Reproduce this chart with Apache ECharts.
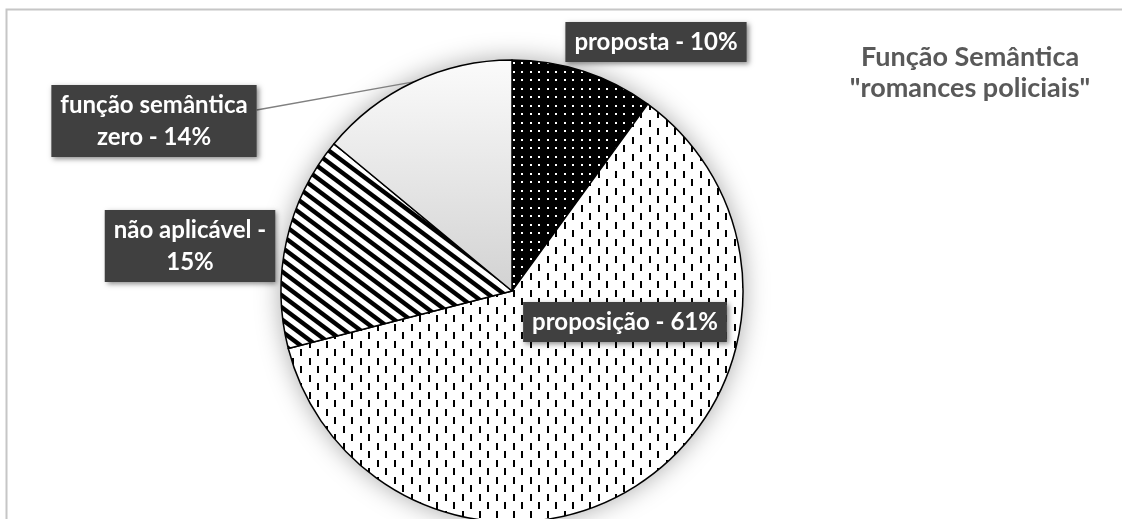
<!DOCTYPE html>
<html>
<head>
<meta charset="utf-8">
<script src="https://cdn.jsdelivr.net/npm/echarts@6/dist/echarts.min.js"></script>
<style>
  html, body { margin: 0; padding: 0; background: #fff; }
  #chart { width: 1122px; height: 519px; }
</style>
</head>
<body>
<div id="chart"></div>
<script>
// Semantic function shares for "romances policiais"
const categories = ['proposta', 'proposição', 'não aplicável', 'função semântica zero'];
const shares = [10, 61, 15, 14];
const titleLines = ['Função Semântica', '"romances policiais"'];

// Label layout: character index where a label wraps (0 = one line) and box centres
const wrapAt = [0, 0, 15, 16];
const labelCenters = [[656, 42], [625, 322], [190, 246], [154, 121]];

function makeTile(w, h, draw) {
  const c = document.createElement('canvas');
  c.width = w; c.height = h;
  draw(c.getContext('2d'), w, h);
  return c;
}

// black with small white dots
const dotTile = makeTile(17, 17, (g, w, h) => {
  g.fillStyle = '#000'; g.fillRect(0, 0, w, h);
  g.fillStyle = '#fff';
  [[3, 3], [11, 3], [3, 11], [11, 11]].forEach(([x, y]) => g.fillRect(x, y, 2, 2));
});

// white with staggered short vertical dashes
const dashTile = makeTile(17, 17, (g, w, h) => {
  g.fillStyle = '#fff'; g.fillRect(0, 0, w, h);
  g.fillStyle = '#000';
  g.fillRect(3, 1, 2, 7);
  g.fillRect(11, 9, 2, 7);
});

// downward diagonal stripes
const stripeTile = makeTile(48, 36, (g, w, h) => {
  g.fillStyle = '#fff'; g.fillRect(0, 0, w, h);
  g.strokeStyle = '#000'; g.lineWidth = 4.4;
  for (let k = -9; k <= 9; k++) {
    const c = k * 12;
    g.beginPath();
    g.moveTo(-48, -36 + c);
    g.lineTo(96, 72 + c);
    g.stroke();
  }
});

const fills = [
  { image: dotTile, repeat: 'repeat' },
  { image: dashTile, repeat: 'repeat' },
  { image: stripeTile, repeat: 'repeat' },
  { type: 'linear', x: 0, y: 0, x2: 0, y2: 1,
    colorStops: [{ offset: 0, color: '#fbfbfb' }, { offset: 1, color: '#d2d2d2' }] }
];

const total = shares.reduce((a, b) => a + b, 0);

const chart = echarts.init(document.getElementById('chart'), null, { renderer: 'canvas' });
chart.setOption({
  animation: false,
  backgroundColor: '#fff',
  title: {
    text: titleLines.join('\n'),
    left: 965,
    top: 37,
    textAlign: 'center',
    textStyle: {
      color: '#595959', fontFamily: 'Lato', fontWeight: 'bold',
      fontSize: 27, lineHeight: 31
    }
  },
  graphic: [{
    type: 'rect', silent: true, z: -10,
    shape: { x: 6.5, y: 9.5, width: 1200, height: 600 },
    style: { fill: 'none', stroke: '#c6c6c6', lineWidth: 2 }
  }],
  series: [
    {
      // soft shadow behind the pie
      type: 'pie', silent: true, z: 1,
      center: [512, 291], radius: 231,
      data: [{ value: total }],
      label: { show: false }, labelLine: { show: false },
      itemStyle: { color: '#fff', shadowBlur: 26, shadowColor: 'rgba(0,0,0,0.35)' }
    },
    {
      type: 'pie', silent: true, z: 2,
      center: [512, 291], radius: 231,
      startAngle: 90, clockwise: true,
      data: categories.map((name, i) => ({
        name, value: shares[i],
        itemStyle: { color: fills[i] },
        labelLine: { show: i === 3 }
      })),
      itemStyle: { borderColor: '#000', borderWidth: 1.5 },
      label: {
        show: true,
        position: 'outside',
        formatter: p => {
          let t = p.name + ' - ' + p.value + '%';
          const w = wrapAt[p.dataIndex];
          if (w) t = t.slice(0, w) + '\n' + t.slice(w + 1);
          return t;
        },
        color: '#fff', fontFamily: 'Lato', fontWeight: 'bold',
        fontSize: 24, lineHeight: 32, align: 'center',
        backgroundColor: '#404040', padding: [4, 9],
        shadowColor: 'rgba(0,0,0,0.45)', shadowBlur: 5,
        shadowOffsetX: 2, shadowOffsetY: 2
      },
      labelLine: { length: 20, length2: 20, lineStyle: { color: '#808080', width: 1.3 } },
      labelLayout: p => {
        const [cx, cy] = labelCenters[p.dataIndex];
        const out = { x: cx, y: cy, align: 'center', verticalAlign: 'middle' };
        if (p.dataIndex === 3 && p.labelLinePoints) {
          const start = [cx + p.labelRect.width / 2, cy - 11];
          out.labelLinePoints = [start, start, p.labelLinePoints[0]];
        }
        return out;
      }
    }
  ]
});
</script>
</body>
</html>
